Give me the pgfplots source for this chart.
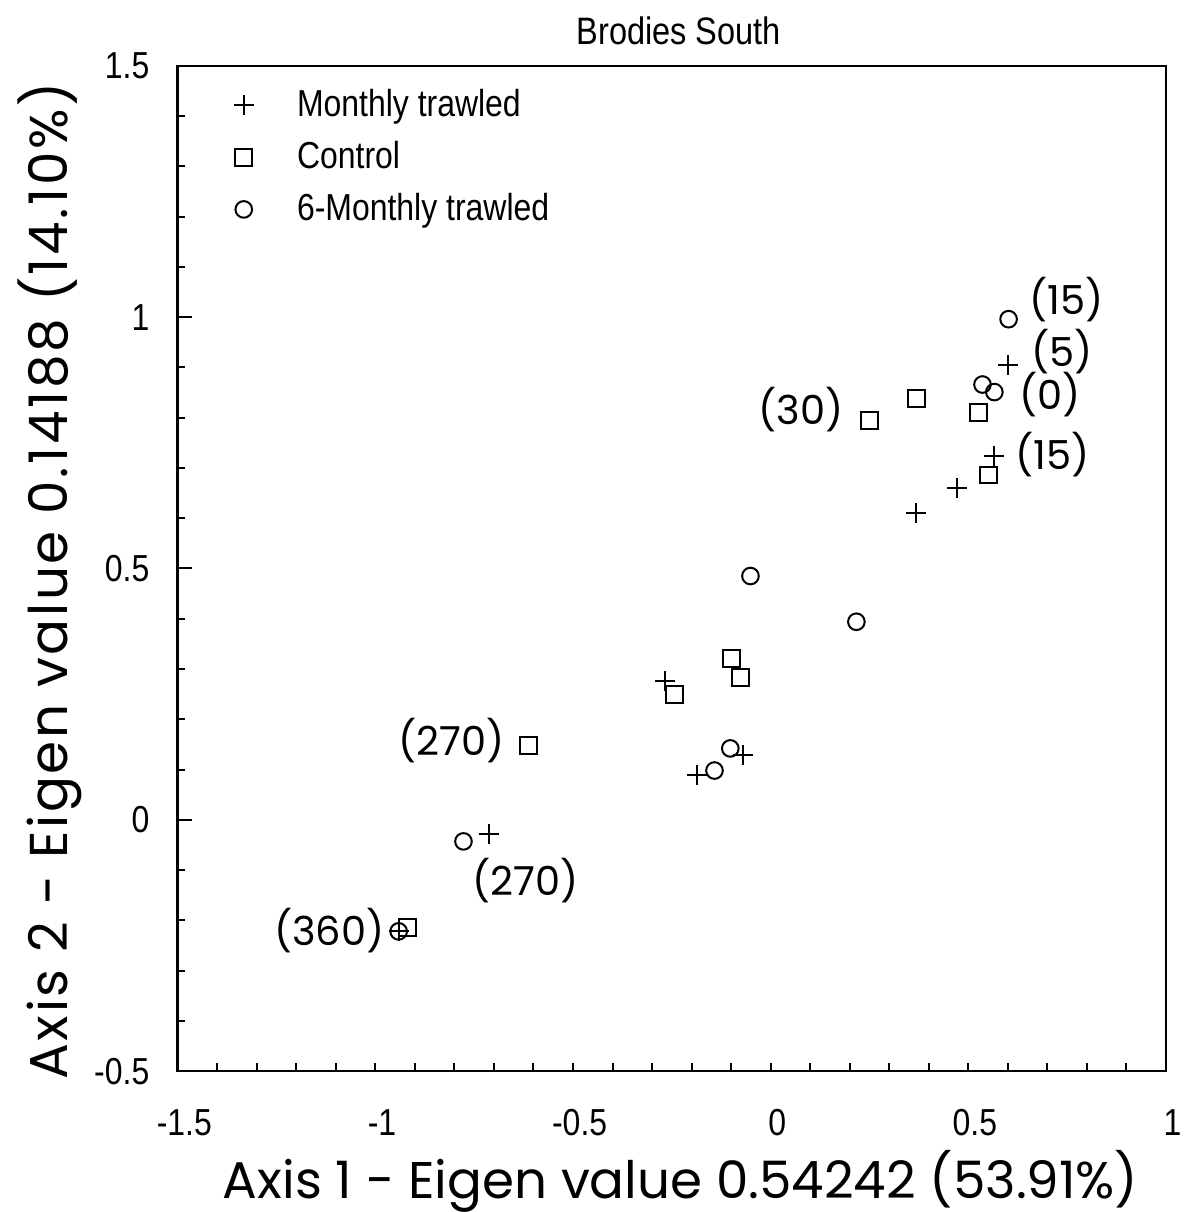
\documentclass[border=0pt]{standalone}
\usepackage{pgfplots}
\pgfplotsset{compat=1.18}
\usepackage{fontspec}
\setmainfont{Liberation Sans}
\newfontfamily\narrowfont[FakeStretch=0.85]{Liberation Sans}
\newfontfamily\geofont{Poppins}
\newfontfamily\geofontwide[LetterSpace=5]{Poppins}
\begin{document}
\begin{tikzpicture}
\begin{axis}[
  scale only axis, width=297pt, height=302.1pt,
  xmin=-1.5, xmax=1, ymin=-0.5, ymax=1.5,
  clip=false,
  xtick={-1.5,-1,-0.5,0,0.5,1}, xticklabels={-1.5,-1,-0.5,0,0.5,1},
  minor xtick={-1.4,-1.3,-1.2,-1.1,-1,-0.9,-0.8,-0.7,-0.6,-0.5,-0.4,-0.3,-0.2,-0.1,0,0.1,0.2,0.3,0.4,0.5,0.6,0.7,0.8,0.9},
  ytick={-0.5,0,0.5,1,1.5}, yticklabels={-0.5,0,0.5,1,1.5},
  minor y tick num=4,
  tick align=inside, tick pos=left,
  major tick length=4.2pt, minor tick length=2.3pt,
  every tick/.style={black, line width=0.6pt},
  major x tick style={draw=none},
  axis line style={line width=0.8pt},
  ticklabel style={font=\narrowfont\fontsize{11.3}{13}\selectfont},
  xticklabel style={yshift=-8pt, xshift=2pt},
  yticklabel style={xshift=-5pt},
  title={\narrowfont\fontsize{11.5}{13}\selectfont Brodies South},
  title style={at={(axis description cs:0.507,1.015)}, anchor=center, inner sep=0pt},
  xlabel={\geofont\fontsize{15.5}{18}\selectfont Axis 1 - Eigen value 0.54242 (53.91\%)},
  xlabel style={at={(axis description cs:0.509,-0.1093)}, anchor=center, inner sep=0pt},
  ylabel={\geofontwide\fontsize{16}{18}\selectfont Axis 2 - Eigen value 0.14188 (14.10\%)},
  ylabel style={at={(axis description cs:-0.1293,0.4876)}, anchor=center, inner sep=0pt},
  legend style={draw=none, fill=none, at={(0.046,0.991)}, anchor=north west,
    font=\narrowfont\fontsize{11.3}{13}\selectfont, row sep=2pt,
    /tikz/every odd column/.append style={column sep=11pt}},
  legend cell align=left,
]
\addplot[only marks, mark=+, mark size=3pt, line width=0.6pt] table {
x y
0.600 0.904
0.566 0.723
0.472 0.660
0.368 0.610
-0.266 0.277
-0.071 0.128
-0.187 0.090
-0.713 -0.029
-0.941 -0.222
};
\addlegendentry{Monthly trawled}
\addplot[only marks, mark=square, mark size=2.55pt, line width=0.6pt] table {
x y
0.249 0.795
0.368 0.839
0.526 0.811
0.551 0.686
-0.099 0.320
-0.076 0.283
-0.243 0.249
-0.613 0.147
-0.918 -0.214
};
\addlegendentry{Control}
\addplot[only marks, mark=o, mark size=2.5pt, line width=0.6pt] table {
x y
0.602 0.996
0.536 0.866
0.566 0.851
-0.051 0.485
0.217 0.394
-0.102 0.142
-0.142 0.098
-0.777 -0.043
-0.941 -0.222
};
\addlegendentry{6-Monthly trawled}
\begin{scope}[every node/.style={inner sep=0pt, font=\geofont\fontsize{12}{14}\selectfont}]
\node[anchor=west] at (axis cs:0.654,1.035) {(15)};
\node[anchor=west] at (axis cs:0.659,0.932) {(5)};
\node[anchor=west] at (axis cs:0.628,0.847) {(0)};
\node[anchor=west] at (axis cs:0.618,0.727) {(15)};
\node[anchor=east] at (axis cs:0.186,0.817) {(30)};
\node[anchor=east] at (axis cs:-0.672,0.157) {(270)};
\node[anchor=west] at (axis cs:-0.756,-0.121) {(270)};
\node[anchor=east] at (axis cs:-0.975,-0.220) {(360)};
\end{scope}
\path ([xshift=-53.4pt,yshift=-41.7pt]rel axis cs:0,0) rectangle ([xshift=4.2pt,yshift=19.8pt]rel axis cs:1,1);
\end{axis}
\end{tikzpicture}
\end{document}
